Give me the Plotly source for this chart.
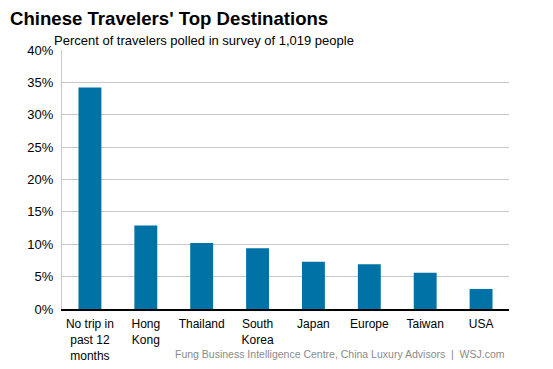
import plotly.graph_objects as go

categories = ["No trip in<br>past 12<br>months", "Hong<br>Kong", "Thailand", "South<br>Korea",
              "Japan", "Europe", "Taiwan", "USA"]
values = [34.2, 12.9, 10.2, 9.4, 7.3, 6.9, 5.6, 3.1]
tick_vals = [0, 5, 10, 15, 20, 25, 30, 35, 40]
tick_text = [f"{v}%" for v in tick_vals]

fig = go.Figure(go.Bar(x=categories, y=values, marker_color="#0072a6",
                       marker_line_width=0, hoverinfo="skip"))

fig.update_layout(
    width=545, height=361,
    margin=dict(l=54, r=44, t=42, b=60),
    paper_bgcolor="white", plot_bgcolor="white",
    bargap=0.59,
    font=dict(family="Liberation Sans, Arial, sans-serif", color="black", size=13),
    showlegend=False,
    annotations=[
        dict(text="<b>Chinese Travelers' Top Destinations</b>", xref="paper", yref="paper",
             x=-0.1208, y=1.1197, xanchor="left", yanchor="middle",
             showarrow=False, font=dict(size=18.6, color="black")),
        dict(text="Percent of travelers polled in survey of 1,019 people", xref="paper", yref="paper",
             x=-0.0224, y=1.0386, xanchor="left", yanchor="middle",
             showarrow=False, font=dict(size=13, color="black")),
        dict(text="Fung Business Intelligence Centre, China Luxury Advisors  |  WSJ.com",
             xref="paper", yref="paper", x=0.9955, y=-0.1737, xanchor="right", yanchor="middle",
             showarrow=False, font=dict(size=10.5, color="#8a8a8a")),
    ],
)
fig.update_yaxes(range=[0, 40], tickvals=tick_vals, ticktext=tick_text,
                 showgrid=True, gridcolor="#c8c8c8", gridwidth=1,
                 zeroline=False, showline=True, linecolor="#c8c8c8", linewidth=1,
                 ticks="", ticklabelstandoff=5, tickfont=dict(size=13), automargin=False)
fig.update_xaxes(showline=True, linecolor="black", linewidth=2, ticks="",
                 tickfont=dict(size=12), tickangle=0, ticklabelstandoff=3, automargin=False)

fig.write_html("out.html")
